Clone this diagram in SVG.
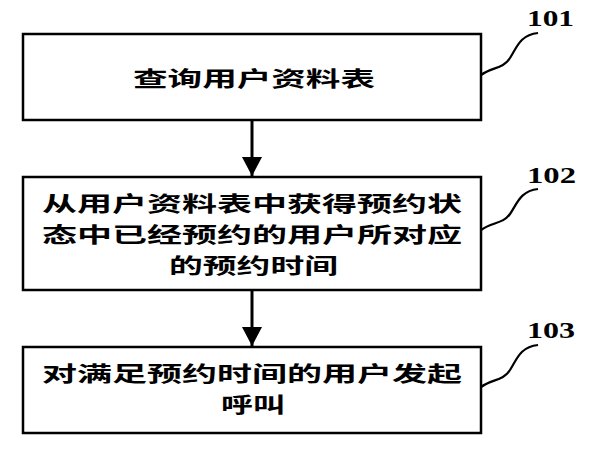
<svg xmlns="http://www.w3.org/2000/svg" width="600" height="450" viewBox="0 0 600 450">
<style>
.box{fill:#fff;stroke:#000;stroke-width:2.5}
.t{font-family:"Noto Sans CJK SC","Noto Sans",sans-serif;font-weight:bold;font-size:21px;fill:#000}
.lbl{font-family:"Liberation Serif",serif;font-weight:bold;font-size:23px;fill:#000}
.ld{fill:none;stroke:#000;stroke-width:2.2}
.ar{stroke:#000;stroke-width:3;fill:none}
</style>
<defs>
<marker id="ah" markerUnits="userSpaceOnUse" markerWidth="20" markerHeight="20" refX="19" refY="10" orient="auto">
<path d="M0,0 L19,10 L0,20 Z" fill="#000"/>
</marker>
</defs>
<rect width="600" height="450" fill="#fff"/>
<g id="connectors">
<line class="ar" x1="252" y1="120" x2="252" y2="176" marker-end="url(#ah)"/>
<line class="ar" x1="252" y1="290" x2="252" y2="346" marker-end="url(#ah)"/>
<path class="ld" d="M481,75 C492,67 503,69 510,58 C517,47 520,35 538,33"/>
<path class="ld" d="M481,230 C492,222 503,224 510,214 C517,204 520,191 538,189"/>
<path class="ld" d="M481,387 C492,379 503,381 510,370 C517,359 520,347 538,345"/>
</g>
<g id="node101">
<rect class="box" x="23" y="34" width="458" height="86"/>
<text class="t" x="133" y="86" textLength="242" lengthAdjust="spacingAndGlyphs">查询用户资料表</text>
<text class="lbl" x="527" y="26" textLength="47" lengthAdjust="spacingAndGlyphs">101</text>
</g>
<g id="node102">
<rect class="box" x="23" y="177" width="458" height="113"/>
<text class="t" x="42" y="211" textLength="420" lengthAdjust="spacingAndGlyphs">从用户资料表中获得预约状</text>
<text class="t" x="42" y="242" textLength="420" lengthAdjust="spacingAndGlyphs">态中已经预约的用户所对应</text>
<text class="t" x="169" y="273" textLength="169" lengthAdjust="spacingAndGlyphs">的预约时间</text>
<text class="lbl" x="527" y="183" textLength="49" lengthAdjust="spacingAndGlyphs">102</text>
</g>
<g id="node103">
<rect class="box" x="23" y="347" width="458" height="86"/>
<text class="t" x="42" y="381" textLength="420" lengthAdjust="spacingAndGlyphs">对满足预约时间的用户发起</text>
<text class="t" x="221" y="412" textLength="64" lengthAdjust="spacingAndGlyphs">呼叫</text>
<text class="lbl" x="527" y="338" textLength="48" lengthAdjust="spacingAndGlyphs">103</text>
</g>
</svg>
